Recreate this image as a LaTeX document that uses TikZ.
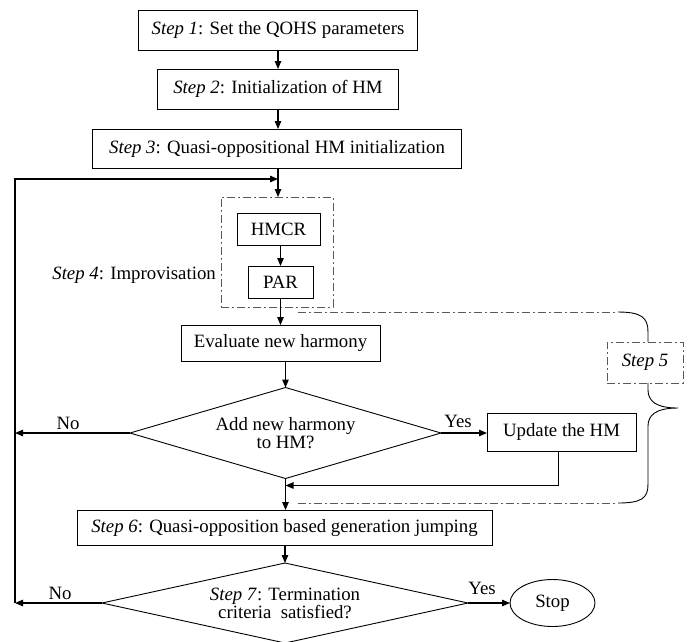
\documentclass[tikz,border=0pt]{standalone}
\usepackage{fontspec}
\setmainfont{Liberation Serif}
\usetikzlibrary{shapes.geometric, arrows.meta, positioning, calc}

\tikzset{
    % Process boxes
    stepbox/.style={
        rectangle, draw=black, line width=0.9pt, fill=white,
        inner sep=0pt, outer sep=0pt, align=center
    },
    % Decision diamonds
    decision/.style={
        diamond, draw=black, line width=0.9pt, fill=white,
        inner sep=0pt, outer sep=0pt, align=center
    },
    % Stop oval
    terminal/.style={
        ellipse, draw=black, line width=0.9pt, fill=white,
        inner sep=0pt, outer sep=0pt
    },
    % Arrows
    flow arrow/.style={
        -{Triangle[length=8pt, width=6.5pt]}, line width=1.1pt, color=black
    },
    % Dash-dot grouping frames
    group frame/.style={
        draw=black!65, line width=1pt,
        dash pattern=on 8pt off 3pt on 2pt off 3pt
    },
    % Yes / No labels
    branch label/.style={inner sep=0pt}
}

\begin{document}
\begin{tikzpicture}[x=1pt, y=-1pt, font=\fontsize{18.8}{18}\selectfont]
    \useasboundingbox (0,0) rectangle (692,641);

    % Steps 1--3
    \node[stepbox, minimum width=279pt, minimum height=40pt] (s1) at (278,30) {\textit{Step 1}: Set the QOHS parameters};
    \node[stepbox, minimum width=241pt, minimum height=40pt] (s2) at (278,89) {\textit{Step 2}: Initialization of HM};
    \node[stepbox, minimum width=369pt, minimum height=39pt] (s3) at (277,148.5) {\textit{Step 3}: Quasi-oppositional HM initialization};

    \draw[flow arrow] (s1.south) -- (s1.south |- s2.north);
    \draw[flow arrow] (s2.south) -- (s2.south |- s3.north);

    % Step 4: improvisation
    \node[rectangle, group frame, minimum width=112pt, minimum height=110pt, inner sep=0pt, outer sep=0pt] (impro) at (277,252) {};
    \node[stepbox, minimum width=83pt, minimum height=32pt] (hmcr) at (278.5,229) {HMCR};
    \node[stepbox, minimum width=65pt, minimum height=32pt] (par) at (280.5,282) {PAR};
    \node[anchor=east, inner sep=0pt] (s4) at (216,275) {\textit{Step 4}: Improvisation};

    \draw[flow arrow] (s2.south |- s3.south) -- (s2.south |- impro.north);
    \draw[flow arrow] (par.north |- hmcr.south) -- (par.north);

    % Evaluation and memory update
    \node[stepbox, minimum width=199pt, minimum height=36pt] (eval) at (280.5,343) {Evaluate new harmony};
    \node[decision, aspect=3.42, minimum width=311pt, minimum height=91pt] (d1) at (285.5,433) {Add new harmony\\to HM?};
    \node[stepbox, minimum width=149pt, minimum height=38pt] (upd) at (561.5,432) {Update the HM};

    \draw[flow arrow] (par.south) -- (par.south |- eval.north);
    \draw[flow arrow] (d1.north |- eval.south) -- (d1.north);
    \draw[flow arrow] (d1.east) -- (d1.east -| upd.west);
    \node[branch label] (yes1) at (458,421) {Yes};

    \coordinate (merge) at ($(d1.south)+(0,7)$);
    \draw[flow arrow] ([xshift=-3pt]upd.south) |- (merge);

    % Step 6 and termination check
    \node[stepbox, minimum width=415pt, minimum height=35pt] (s6) at (284.5,527.5) {\textit{Step 6}: Quasi-opposition based generation jumping};
    \node[decision, aspect=4.57, minimum width=366pt, minimum height=80pt] (d2) at (285,603) {\textit{Step 7}: Termination\\criteria~ satisfied?};
    \node[terminal, minimum width=85pt, minimum height=47pt] (stop) at (552.5,603) {Stop};

    \draw[flow arrow] (d1.south) -- (d1.south |- s6.north);
    \draw[flow arrow] (d2.north |- s6.south) -- (d2.north);
    \draw[flow arrow] (d2.east) -- (stop.west);
    \node[branch label] (yes2) at (482,588) {Yes};

    % Feedback rail on the left
    \coordinate (rail) at (15,179);
    \draw[flow arrow] (d1.west) -- (d1.west -| rail);
    \draw[flow arrow] (d2.west) -- (d2.west -| rail);
    \draw[flow arrow] (d2.west -| rail) -- (rail) -- (rail -| s2.south);
    \node[branch label] (no1) at (68,423) {No};
    \node[branch label] (no2) at (60,593) {No};

    % Step 5 brace
    \coordinate (g5 top) at (298,312);
    \coordinate (g5 bot) at (298,503);
    \coordinate (br top) at (618,312);
    \coordinate (br bot) at (618,503);
    \draw[group frame] (g5 top) -- (br top);
    \draw[group frame] (g5 bot) -- (br bot);
    \draw[line width=0.9pt] (br top) .. controls (642,312) and (648,318) .. (648,332)
        -- (648,390) .. controls (648,401) and (656,408) .. (678,408)
        .. controls (656,408) and (648,415) .. (648,426)
        -- (648,484) .. controls (648,498) and (642,503) .. (br bot);
    \node[stepbox, group frame, minimum width=76pt, minimum height=41pt] (s5) at (645,362.5) {\textit{Step 5}};
\end{tikzpicture}
\end{document}
